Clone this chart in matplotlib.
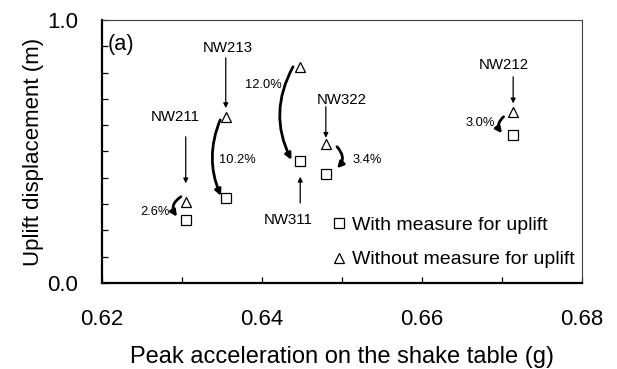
import numpy as np
import matplotlib
matplotlib.use('Agg')
import matplotlib.pyplot as plt
from matplotlib.ticker import MultipleLocator, FuncFormatter

plt.rcParams['font.family'] = ['Liberation Sans', 'DejaVu Sans']

# specimen data
specimens = ['NW211', 'NW213', 'NW311', 'NW322', 'NW212']
peak_acc = [0.6305, 0.6355, 0.6448, 0.6480, 0.6714]
with_measure = [0.240, 0.324, 0.464, 0.416, 0.563]
without_measure = [0.309, 0.630, 0.822, 0.527, 0.649]
reduction = ['2.6%', '10.2%', '12.0%', '3.4%', '3.0%']

# label placement (data coords)
name_xy = [(0.6292, 0.632), (0.6358, 0.892), (0.6433, 0.240), (0.6500, 0.696), (0.6702, 0.829)]
name_arrow = [(0.556, 0.379), (0.856, 0.665), (0.304, 0.404), (0.670, 0.552), (0.784, 0.683)]
pct_xy = [(0.6267, 0.269), (0.6370, 0.468), (0.6402, 0.753), (0.6532, 0.468), (0.6673, 0.610)]
curve_start = [(0.6299, 0.328), (0.6348, 0.620), (0.6439, 0.822), (0.6494, 0.518), (0.6702, 0.632)]
curve_end = [(0.6294, 0.252), (0.6349, 0.331), (0.6437, 0.468), (0.6494, 0.436), (0.6700, 0.569)]
curve_rad = [0.5, 0.21, 0.26, -0.45, 0.45]

fig = plt.figure(figsize=(6.17, 3.69), dpi=100)
ax = fig.add_axes([0.1648, 0.2331, 0.7785, 0.7127])

ax.plot(peak_acc, with_measure, 's', ms=6.5, mfc='white', mec='black', mew=0.9,
        label='With measure for uplift')
ax.plot(peak_acc, without_measure, '^', ms=7, mfc='white', mec='black', mew=0.9,
        label='Without measure for uplift')

for i, name in enumerate(specimens):
    ax.text(name_xy[i][0], name_xy[i][1], name, fontsize=10.8, ha='center', va='center')
    y0, y1 = name_arrow[i]
    ax.annotate('', xy=(peak_acc[i], y1), xytext=(peak_acc[i], y0),
                arrowprops=dict(arrowstyle='-|>', lw=0.9, color='black',
                                mutation_scale=7, shrinkA=0, shrinkB=0))
    ax.text(pct_xy[i][0], pct_xy[i][1], reduction[i], fontsize=9.3, ha='center', va='center')
    ax.annotate('', xy=curve_end[i], xytext=curve_start[i],
                arrowprops=dict(arrowstyle='-|>', lw=2.0, color='black',
                                mutation_scale=9, shrinkA=0, shrinkB=0,
                                connectionstyle=f'arc3,rad={curve_rad[i]}'))

ax.text(0.6207, 0.905, '(a)', fontsize=15.7, ha='left', va='center')

ax.set_xlim(0.62, 0.68)
ax.set_ylim(0.0, 1.0)
ax.xaxis.set_major_locator(MultipleLocator(0.02))
ax.xaxis.set_minor_locator(MultipleLocator(0.01))
ax.xaxis.set_major_formatter(FuncFormatter(lambda v, p: f'{v:.2f}'))
ax.yaxis.set_major_locator(MultipleLocator(0.1))
ax.yaxis.set_major_formatter(FuncFormatter(
    lambda v, p: f'{v:.1f}' if abs(v) < 1e-6 or abs(v - 1) < 1e-6 else ''))
ax.tick_params(axis='both', which='both', direction='in', length=4, width=0.9,
               top=False, right=False)
ax.tick_params(axis='x', labelsize=16, pad=19)
ax.tick_params(axis='y', labelsize=16, pad=17)

for s in ['left', 'bottom']:
    ax.spines[s].set_linewidth(1.6)
for s in ['top', 'right']:
    ax.spines[s].set_linewidth(0.8)
    ax.spines[s].set_color('#404040')

ax.set_xlabel('Peak acceleration on the shake table (g)', fontsize=17, labelpad=11)
ax.set_ylabel('Uplift displacement (m)', fontsize=16, labelpad=2)

ax.legend(loc='lower right', bbox_to_anchor=(1.016, 0.0), frameon=False, fontsize=14,
          handlelength=0.6, handletextpad=0.4, labelspacing=0.86, borderpad=0.3,
          borderaxespad=0.45)

fig.savefig('out.png', dpi=100)
